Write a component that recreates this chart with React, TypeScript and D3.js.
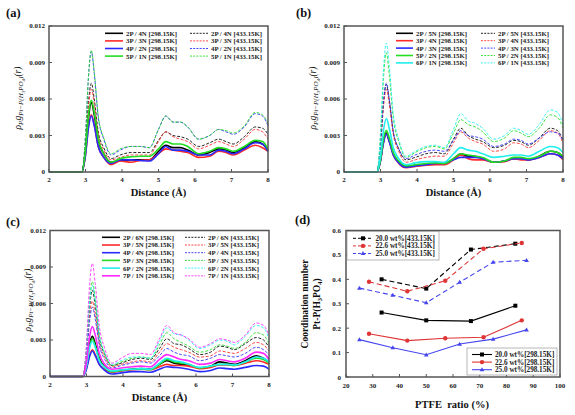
import React from "react";
import * as d3 from "d3";

// ---------- RDF data (values in units of 1e-3) ----------
const DIST = [2.0, 2.9, 3.0, 3.08, 3.16, 3.24, 3.35, 3.5, 3.7, 3.95, 4.25, 4.5, 4.75, 5.0, 5.2, 5.4, 5.6, 5.8, 6.1, 6.4, 6.65, 6.85, 7.05, 7.35, 7.65, 7.85, 8.0];
const RDF_TICKS_X = [2, 3, 4, 5, 6, 7, 8];
const RDF_TICKS_Y = [0, 3, 6, 9, 12];
const RDF_TICK_LABELS_Y = ["0", "0.003", "0.006", "0.009", "0.012"];

const A_NAMES = ["2P / 4N", "3P / 3N", "4P / 2N", "5P / 1N"];
const A_COLORS = ["#000000", "#ff2a2a", "#2a2aff", "#22dd22"];
const A_298 = [
  [0, 0, 1.7, 4.4, 5.7, 4.7, 2.6, 1.5, 0.8, 0.95, 1.0, 1.0, 1.0, 1.7, 2.2, 2.0, 2.0, 1.8, 1.4, 1.6, 1.9, 1.8, 1.6, 2.0, 2.5, 2.3, 1.8],
  [0, 0, 1.4, 3.7, 4.7, 3.9, 2.1, 1.2, 0.6, 0.9, 0.8, 0.95, 1.0, 1.5, 1.9, 1.8, 1.7, 1.6, 1.2, 1.3, 1.7, 1.6, 1.4, 1.8, 2.2, 2.0, 1.7],
  [0, 0, 1.4, 3.6, 4.6, 3.8, 2.1, 1.2, 0.7, 1.0, 1.0, 0.95, 0.9, 1.5, 2.1, 1.8, 1.8, 1.7, 1.4, 1.4, 1.8, 1.7, 1.5, 1.9, 2.4, 2.3, 1.7],
  [0, 0, 1.8, 4.6, 5.9, 4.9, 2.7, 1.5, 0.8, 1.1, 1.25, 1.3, 1.3, 1.9, 2.5, 2.3, 2.3, 2.1, 1.5, 1.7, 2.0, 1.9, 1.7, 2.1, 2.6, 2.5, 1.9],
];
const A_433 = [
  [0, 0, 2.2, 5.7, 7.3, 6.0, 3.3, 2.0, 1.1, 1.4, 1.6, 1.6, 1.6, 2.6, 3.3, 3.0, 2.9, 2.7, 2.1, 2.4, 2.7, 2.5, 2.3, 2.9, 3.7, 3.6, 3.1],
  [0, 0, 2.0, 5.3, 6.8, 5.6, 3.1, 1.8, 1.0, 1.2, 1.4, 1.4, 1.4, 2.5, 3.3, 2.9, 2.7, 2.5, 1.9, 2.2, 2.5, 2.3, 2.1, 2.7, 3.5, 3.3, 2.7],
  [0, 0, 3.0, 7.7, 9.9, 8.1, 4.5, 2.7, 1.4, 1.8, 2.1, 2.1, 2.0, 3.5, 4.6, 4.1, 4.1, 3.7, 2.7, 3.0, 3.5, 3.3, 3.1, 3.7, 4.8, 4.6, 3.8],
  [0, 0, 3.0, 7.8, 10.0, 8.2, 4.6, 2.8, 1.5, 1.9, 2.1, 2.1, 2.0, 3.5, 4.6, 4.1, 4.1, 3.7, 2.7, 3.0, 3.5, 3.4, 3.2, 3.8, 4.9, 4.7, 4.0],
];

const B_NAMES = ["2P / 5N", "3P / 4N", "4P / 3N", "5P / 2N", "6P / 1N"];
const B_COLORS = ["#000000", "#ff2a2a", "#2a2aff", "#22dd22", "#22eeee"];
const B_298 = [
  [0, 0, 1.0, 2.5, 3.2, 2.6, 1.5, 0.8, 0.45, 0.5, 0.6, 0.7, 0.7, 1.1, 1.5, 1.3, 1.3, 1.1, 0.8, 0.9, 1.1, 1.1, 1.0, 1.3, 1.7, 1.6, 1.2],
  [0, 0, 0.9, 2.4, 3.1, 2.5, 1.4, 0.7, 0.35, 0.45, 0.55, 0.6, 0.6, 1.0, 1.4, 1.1, 1.0, 1.0, 0.8, 0.85, 1.1, 1.0, 1.0, 1.2, 1.5, 1.4, 1.0],
  [0, 0, 0.9, 2.4, 3.1, 2.5, 1.4, 0.75, 0.4, 0.5, 0.6, 0.7, 0.7, 1.0, 1.2, 1.2, 1.2, 1.1, 0.8, 0.9, 1.1, 1.1, 1.0, 1.2, 1.5, 1.4, 1.1],
  [0, 0, 1.0, 2.7, 3.4, 2.8, 1.6, 0.9, 0.5, 0.6, 0.7, 0.75, 0.7, 1.1, 1.5, 1.4, 1.3, 1.2, 0.8, 0.9, 1.2, 1.2, 1.1, 1.3, 1.7, 1.6, 1.3],
  [0, 0, 1.3, 3.4, 4.4, 3.6, 2.0, 1.1, 0.6, 0.75, 0.85, 0.85, 0.8, 1.5, 2.0, 1.8, 1.7, 1.5, 1.2, 1.3, 1.4, 1.4, 1.3, 1.7, 2.1, 2.0, 1.6],
];
const B_433 = [
  [0, 0, 2.2, 5.6, 7.2, 5.9, 3.3, 1.9, 1.0, 1.2, 1.5, 1.6, 1.5, 2.7, 3.6, 3.0, 2.7, 2.5, 2.0, 2.2, 2.6, 2.5, 2.2, 2.8, 3.6, 3.4, 2.6],
  [0, 0, 2.0, 5.3, 6.8, 5.6, 3.1, 1.7, 0.8, 1.0, 1.2, 1.3, 1.3, 2.4, 3.3, 2.8, 2.5, 2.3, 1.7, 1.9, 2.4, 2.3, 2.0, 2.6, 3.4, 3.2, 2.4],
  [0, 0, 2.2, 5.7, 7.3, 6.0, 3.3, 1.9, 1.1, 1.4, 1.7, 1.8, 1.7, 2.6, 3.4, 3.0, 2.9, 2.7, 2.1, 2.3, 2.7, 2.6, 2.3, 2.8, 3.3, 3.2, 2.6],
  [0, 0, 2.9, 7.6, 9.8, 8.0, 4.4, 2.5, 1.2, 1.6, 2.0, 2.1, 1.9, 3.2, 4.3, 3.9, 3.7, 3.3, 2.5, 2.8, 3.4, 3.2, 2.9, 3.6, 4.7, 4.5, 3.6],
  [0, 0, 3.2, 8.3, 10.6, 8.7, 4.8, 2.7, 1.3, 1.7, 2.1, 2.2, 2.0, 3.5, 4.8, 4.2, 4.0, 3.6, 2.7, 3.0, 3.6, 3.4, 3.1, 3.9, 5.1, 4.9, 3.9],
];

const C_NAMES = ["2P / 6N", "3P / 5N", "4P / 4N", "5P / 3N", "6P / 2N", "7P / 1N"];
const C_COLORS = ["#000000", "#ff2a2a", "#2a2aff", "#22dd22", "#22eeee", "#ff2aff"];
const C_298 = [
  [0, 0, 1.0, 2.6, 3.3, 2.7, 1.5, 0.8, 0.4, 0.5, 0.6, 0.65, 0.6, 1.0, 1.3, 1.1, 1.0, 0.95, 0.7, 0.85, 1.2, 1.1, 1.0, 1.3, 1.7, 1.5, 1.2],
  [0, 0, 0.7, 1.7, 2.2, 1.8, 1.0, 0.6, 0.35, 0.45, 0.55, 0.6, 0.55, 0.8, 1.0, 0.9, 0.9, 0.85, 0.65, 0.75, 0.95, 0.95, 0.9, 1.1, 1.3, 1.2, 1.0],
  [0, 0, 0.6, 1.6, 2.1, 1.7, 1.0, 0.5, 0.2, 0.3, 0.4, 0.4, 0.35, 0.6, 0.8, 0.75, 0.7, 0.6, 0.4, 0.5, 0.7, 0.65, 0.6, 0.75, 0.9, 0.85, 0.6],
  [0, 0, 0.9, 2.4, 3.1, 2.5, 1.4, 0.75, 0.4, 0.5, 0.6, 0.6, 0.55, 1.0, 1.4, 1.2, 1.1, 1.0, 0.7, 0.85, 1.0, 1.0, 0.9, 1.2, 1.5, 1.4, 1.1],
  [0, 0, 0.9, 2.3, 2.9, 2.4, 1.3, 0.75, 0.45, 0.55, 0.6, 0.65, 0.6, 1.1, 1.5, 1.3, 1.2, 1.0, 0.75, 0.85, 1.0, 1.0, 0.95, 1.2, 1.6, 1.5, 1.2],
  [0, 0, 1.2, 3.2, 4.1, 3.4, 1.9, 1.0, 0.6, 0.7, 0.8, 0.85, 0.8, 1.4, 1.8, 1.6, 1.4, 1.3, 1.0, 1.1, 1.4, 1.3, 1.2, 1.5, 2.0, 1.9, 1.4],
];
const C_433 = [
  [0, 0, 2.1, 5.5, 7.1, 5.8, 3.2, 1.8, 0.9, 1.1, 1.4, 1.5, 1.4, 2.3, 3.1, 2.7, 2.6, 2.3, 1.8, 2.0, 2.5, 2.4, 2.2, 2.7, 3.2, 3.0, 2.4],
  [0, 0, 1.9, 4.8, 6.2, 5.1, 2.8, 1.6, 0.8, 1.0, 1.2, 1.3, 1.2, 2.0, 2.7, 2.4, 2.2, 2.0, 1.6, 1.7, 2.1, 2.0, 1.9, 2.3, 2.8, 2.6, 2.1],
  [0, 0, 1.7, 4.4, 5.7, 4.7, 2.6, 1.4, 0.7, 0.9, 1.1, 1.2, 1.1, 1.7, 2.3, 2.0, 1.8, 1.7, 1.3, 1.5, 1.8, 1.7, 1.6, 1.9, 2.4, 2.2, 1.8],
  [0, 0, 2.3, 6.1, 7.8, 6.4, 3.5, 1.9, 0.9, 1.2, 1.5, 1.6, 1.5, 2.6, 3.6, 3.1, 2.8, 2.5, 2.0, 2.2, 2.6, 2.5, 2.3, 2.8, 3.6, 3.4, 2.7],
  [0, 0, 2.3, 5.9, 7.5, 6.2, 3.4, 1.9, 1.0, 1.3, 1.6, 1.6, 1.5, 2.9, 4.0, 3.5, 3.4, 3.0, 2.3, 2.6, 3.0, 2.9, 2.6, 3.3, 4.2, 4.0, 3.1],
  [0, 0, 2.8, 7.3, 9.3, 7.6, 4.2, 2.3, 1.1, 1.5, 1.9, 1.9, 1.8, 3.1, 4.2, 3.6, 3.4, 3.1, 2.4, 2.7, 3.1, 3.0, 2.8, 3.4, 4.4, 4.2, 3.4],
];

// ---------- Coordination number data ----------
const D_TICKS_X = [20, 30, 40, 50, 60, 70, 80, 90, 100];
const D_TICKS_Y = [0, 0.1, 0.2, 0.3, 0.4, 0.5, 0.6];
const D_TICK_LABELS_Y = ["0", "0.1", "0.2", "0.3", "0.4", "0.5", "0.6"];
const PTFE_20 = [33.3, 50.0, 66.7, 83.3];
const CN_20_433 = [0.4, 0.362, 0.522, 0.546];
const CN_20_298 = [0.264, 0.232, 0.229, 0.292];
const PTFE_226 = [28.6, 42.9, 57.1, 71.4, 85.7];
const CN_226_433 = [0.39, 0.351, 0.394, 0.525, 0.549];
const CN_226_298 = [0.177, 0.149, 0.159, 0.163, 0.232];
const PTFE_25 = [25.0, 37.5, 50.0, 62.5, 75.0, 87.5];
const CN_25_433 = [0.364, 0.335, 0.304, 0.388, 0.47, 0.478];
const CN_25_298 = [0.153, 0.12, 0.091, 0.135, 0.155, 0.193];
const D_NAMES = ["20.0 wt%", "22.6 wt%", "25.0 wt%"];
const D_COLORS = ["#000000", "#e03535", "#4545ee"];

const FONT = "'Liberation Serif', 'Times New Roman', serif";
const FRAME = "#555555";

type Box = { l: number; r: number; t: number; b: number };
type Leg = { c1: number; c2: number; len1: number; len2: number; y0: number; dy: number };

function YLabelRdf({ x, y }: { x: number; y: number }) {
  return (
    <text transform={`translate(${x},${y}) rotate(-90)`} textAnchor="middle" fontFamily={FONT} fontSize={9.5} fontStyle="italic" fill="#111">
      <tspan>ρ</tspan>
      <tspan dy={2} fontSize={7}>P</tspan>
      <tspan dy={-2}>g</tspan>
      <tspan dy={2} fontSize={7}>Pt−P(H</tspan>
      <tspan dy={1.5} fontSize={5}>3</tspan>
      <tspan dy={-1.5} fontSize={7}>PO</tspan>
      <tspan dy={1.5} fontSize={5}>4</tspan>
      <tspan dy={-1.5} fontSize={7}>)</tspan>
      <tspan dy={-2}>(r)</tspan>
    </text>
  );
}

function RdfPanel(props: {
  box: Box; tag: string; tagX: number; tagY: number; ylx: number; yly: number;
  names: string[]; colors: string[]; s298: number[][]; s433: number[][]; leg: Leg;
}) {
  const { box, names, colors, s298, s433, leg } = props;
  const x = d3.scaleLinear().domain([2, 8]).range([box.l, box.r]);
  const y = d3.scaleLinear().domain([0, 12]).range([box.b, box.t]);
  const line = d3
    .line<number>()
    .x((_, i) => x(DIST[i]))
    .y((v) => y(v))
    .curve(d3.curveMonotoneX);
  const cx = (box.l + box.r) / 2;
  return (
    <g>
      <text x={props.tagX} y={props.tagY} fontFamily={FONT} fontWeight="bold" fontSize={12.5} fill="#111">{props.tag}</text>
      {s433.map((s, i) => (
        <path key={"d" + i} d={line(s) || ""} fill="none" stroke={colors[i]} strokeWidth={1} strokeDasharray="3,1.6" opacity={0.85} />
      ))}
      {s298.map((s, i) => (
        <path key={"s" + i} d={line(s) || ""} fill="none" stroke={colors[i]} strokeWidth={1.6} />
      ))}
      <rect x={box.l} y={box.t} width={box.r - box.l} height={box.b - box.t} fill="none" stroke={FRAME} strokeWidth={1.5} />
      {RDF_TICKS_Y.map((t, i) => (
        <g key={"yt" + i}>
          <line x1={box.l} x2={box.l + 3} y1={y(t)} y2={y(t)} stroke={FRAME} strokeWidth={1} />
          <text x={box.l - 4} y={y(t) + 2.4} textAnchor="end" fontFamily={FONT} fontWeight="bold" fontSize={7} fill="#222">{RDF_TICK_LABELS_Y[i]}</text>
        </g>
      ))}
      {RDF_TICKS_X.map((t) => (
        <g key={"xt" + t}>
          <line x1={x(t)} x2={x(t)} y1={box.b} y2={box.b - 3} stroke={FRAME} strokeWidth={1} />
          <text x={x(t)} y={box.b + 10} textAnchor="middle" fontFamily={FONT} fontWeight="bold" fontSize={7} fill="#222">{t}</text>
        </g>
      ))}
      <text x={cx} y={box.b + 24} textAnchor="middle" fontFamily={FONT} fontWeight="bold" fontSize={10.5} fill="#111">Distance (Å)</text>
      <YLabelRdf x={props.ylx} y={props.yly} />
      {names.map((n, i) => {
        const yy = leg.y0 + i * leg.dy;
        return (
          <g key={"lg" + i}>
            <line x1={leg.c1} x2={leg.c1 + leg.len1} y1={yy} y2={yy} stroke={colors[i]} strokeWidth={1.6} />
            <text x={leg.c1 + leg.len1 + 3} y={yy + 2.4} fontFamily={FONT} fontWeight="bold" fontSize={6.8} fill="#222">{`${n} [298.15K]`}</text>
            <line x1={leg.c2} x2={leg.c2 + leg.len2} y1={yy} y2={yy} stroke={colors[i]} strokeWidth={1} strokeDasharray="2,1.2" opacity={0.85} />
            <text x={leg.c2 + leg.len2 + 3} y={yy + 2.4} fontFamily={FONT} fontWeight="bold" fontSize={6.8} fill="#222">{`${n} [433.15K]`}</text>
          </g>
        );
      })}
    </g>
  );
}

function Marker({ kind, x, y, color }: { kind: number; x: number; y: number; color: string }) {
  if (kind === 0) return <rect x={x - 2} y={y - 2} width={4} height={4} fill={color} />;
  if (kind === 1) return <circle cx={x} cy={y} r={2.2} fill={color} />;
  return <path d={`M${x},${y - 2.4}L${x + 2.3},${y + 1.6}L${x - 2.3},${y + 1.6}Z`} fill={color} />;
}

function CnPanel() {
  const box: Box = { l: 346, r: 560, t: 230.5, b: 377 };
  const x = d3.scaleLinear().domain([20, 100]).range([box.l, box.r]);
  const y = d3.scaleLinear().domain([0, 0.6]).range([box.b, box.t]);
  const xs = [PTFE_20, PTFE_226, PTFE_25];
  const hot = [CN_20_433, CN_226_433, CN_25_433];
  const cold = [CN_20_298, CN_226_298, CN_25_298];
  const line = (px: number[], py: number[]) =>
    d3.line<number>().x((_, i) => x(px[i])).y((v) => y(v))(py) || "";
  return (
    <g>
      <text x={295} y={224} fontFamily={FONT} fontWeight="bold" fontSize={12.5} fill="#111">(d)</text>
      {[0, 1, 2].map((k) => (
        <g key={"h" + k}>
          <path d={line(xs[k], hot[k])} fill="none" stroke={D_COLORS[k]} strokeWidth={1.1} strokeDasharray="5,3" />
          <path d={line(xs[k], cold[k])} fill="none" stroke={D_COLORS[k]} strokeWidth={1.1} />
          {hot[k].map((v, i) => <Marker key={"mh" + i} kind={k} x={x(xs[k][i])} y={y(v)} color={D_COLORS[k]} />)}
          {cold[k].map((v, i) => <Marker key={"mc" + i} kind={k} x={x(xs[k][i])} y={y(v)} color={D_COLORS[k]} />)}
        </g>
      ))}
      <rect x={box.l} y={box.t} width={box.r - box.l} height={box.b - box.t} fill="none" stroke={FRAME} strokeWidth={1.5} />
      {D_TICKS_Y.map((t, i) => (
        <g key={"yt" + i}>
          <line x1={box.l} x2={box.l + 3} y1={y(t)} y2={y(t)} stroke={FRAME} strokeWidth={1} />
          <text x={box.l - 5} y={y(t) + 2.5} textAnchor="end" fontFamily={FONT} fontWeight="bold" fontSize={7} fill="#222">{D_TICK_LABELS_Y[i]}</text>
        </g>
      ))}
      {D_TICKS_X.map((t) => (
        <g key={"xt" + t}>
          <line x1={x(t)} x2={x(t)} y1={box.b} y2={box.b - 3} stroke={FRAME} strokeWidth={1} />
          <text x={x(t)} y={box.b + 11} textAnchor="middle" fontFamily={FONT} fontWeight="bold" fontSize={7} fill="#222">{t}</text>
        </g>
      ))}
      <text x={452} y={408} textAnchor="middle" fontFamily={FONT} fontWeight="bold" fontSize={10.5} fill="#111" style={{ whiteSpace: "pre" }}>{"PTFE  ratio (%)"}</text>
      <text transform="translate(308,304) rotate(-90)" textAnchor="middle" fontFamily={FONT} fontWeight="bold" fontSize={9.5} fill="#111">Coordination number</text>
      <text transform="translate(320,304) rotate(-90)" textAnchor="middle" fontFamily={FONT} fontWeight="bold" fontSize={9.5} fill="#111">
        <tspan>Pt-P(H</tspan>
        <tspan dy={1.5} fontSize={6.5}>3</tspan>
        <tspan dy={-1.5}>PO</tspan>
        <tspan dy={1.5} fontSize={6.5}>4</tspan>
        <tspan dy={-1.5}>)</tspan>
      </text>
      {/* legends */}
      <rect x={347} y={231.5} width={92} height={28.5} fill="white" stroke="#888" strokeWidth={0.6} />
      {D_NAMES.map((n, k) => {
        const yy = 238.3 + k * 7.6;
        return (
          <g key={"lh" + k}>
            <line x1={353} x2={373} y1={yy} y2={yy} stroke={D_COLORS[k]} strokeWidth={1} strokeDasharray="3,2" />
            <Marker kind={k} x={363} y={yy} color={D_COLORS[k]} />
            <text x={375.5} y={yy + 2.5} fontFamily={FONT} fontWeight="bold" fontSize={7.2} fill="#222">{`${n}[433.15K]`}</text>
          </g>
        );
      })}
      <rect x={467} y={348} width={90} height={27} fill="white" stroke="#888" strokeWidth={0.6} />
      {D_NAMES.map((n, k) => {
        const yy = 354.5 + k * 7.6;
        return (
          <g key={"lc" + k}>
            <line x1={472} x2={492} y1={yy} y2={yy} stroke={D_COLORS[k]} strokeWidth={1.1} />
            <Marker kind={k} x={482} y={yy} color={D_COLORS[k]} />
            <text x={495} y={yy + 2.5} fontFamily={FONT} fontWeight="bold" fontSize={7.2} fill="#222">{`${n}[298.15K]`}</text>
          </g>
        );
      })}
    </g>
  );
}

export default function App() {
  return (
    <svg width={575} height={415} style={{ position: "absolute", left: 0, top: 0, background: "white" }}>
      <RdfPanel
        box={{ l: 49, r: 268, t: 26, b: 172 }}
        tag="(a)" tagX={6} tagY={17} ylx={21} yly={98}
        names={A_NAMES} colors={A_COLORS} s298={A_298} s433={A_433}
        leg={{ c1: 105, c2: 190, len1: 18, len2: 18, y0: 33.3, dy: 7.6 }}
      />
      <RdfPanel
        box={{ l: 344, r: 563, t: 26, b: 172 }}
        tag="(b)" tagX={296} tagY={17} ylx={316} yly={98}
        names={B_NAMES} colors={B_COLORS} s298={B_298} s433={B_433}
        leg={{ c1: 396, c2: 481, len1: 17, len2: 14, y0: 33.3, dy: 7.4 }}
      />
      <RdfPanel
        box={{ l: 50, r: 269, t: 230.5, b: 376.5 }}
        tag="(c)" tagX={6} tagY={226} ylx={31} yly={300}
        names={C_NAMES} colors={C_COLORS} s298={C_298} s433={C_433}
        leg={{ c1: 102, c2: 185, len1: 18, len2: 20, y0: 237.3, dy: 7.7 }}
      />
      <CnPanel />
    </svg>
  );
}
